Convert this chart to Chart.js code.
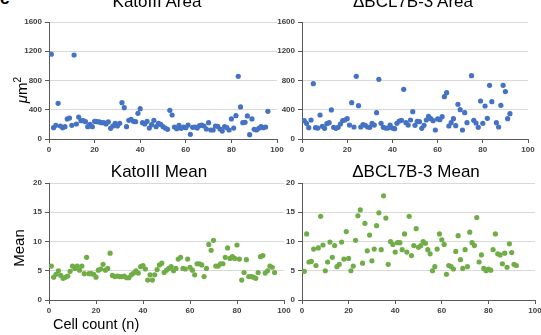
<!DOCTYPE html>
<html>
<head>
<meta charset="utf-8">
<script src="https://cdn.jsdelivr.net/npm/chart.js@4.4.1/dist/chart.umd.min.js"></script>
<style>
html, body { margin: 0; padding: 0; background: #fff; overflow: hidden; width: 541px; height: 335px; }
body { position: relative; font-family: "Liberation Sans", Arial, sans-serif; }
canvas { position: absolute; }
.t { position: absolute; font-size: 17px; line-height: 17px; color: #000; white-space: nowrap; transform: translateX(-50%); }
.yt { position: absolute; font-size: 15px; line-height: 15px; color: #000; white-space: nowrap; transform: translate(-50%, -50%) rotate(-90deg); }
.xt { position: absolute; font-size: 14.5px; line-height: 14.5px; color: #000; white-space: nowrap; }
.lbl { position: absolute; font-size: 17px; line-height: 17px; font-weight: bold; color: #000; }
</style>
</head>
<body>
<div class="lbl" style="left:0px; top:-10px;">c</div>
<canvas id="c1" width="290" height="160" style="left:0px; top:0px;"></canvas>
<canvas id="c2" width="280" height="160" style="left:270px; top:0px;"></canvas>
<canvas id="c3" width="295" height="175" style="left:0px; top:160px;"></canvas>
<canvas id="c4" width="280" height="175" style="left:270px; top:160px;"></canvas>

<div class="t" style="left:157px; top:-7px;">KatoIII Area</div>
<div class="t" style="left:413px; top:-7px;">ΔBCL7B-3 Area</div>
<div class="t" style="left:159px; top:163px;">KatoIII Mean</div>
<div class="t" style="left:416px; top:163px;">ΔBCL7B-3 Mean</div>
<div class="yt" style="left:19px; top:90px;"><i>μ</i>m<sup style="font-size:10px;">2</sup></div>
<div class="yt" style="left:18px; top:248px;">Mean</div>
<div class="xt" style="left:53px; top:317px;">Cell count (n)</div>

<script>
// x ticks shared by all panels
const xTicks = [0, 20, 40, 60, 80, 100];
const areaTicks = [0, 400, 800, 1200, 1600];
const meanTicks = [0, 5, 10, 15, 20];

// KatoIII cell area, cells 1..96
const katoArea = [1160, 155, 187, 488, 178, 155, 169, 274, 287, 187,
  1149, 205, 300, 250, 250, 237, 169, 200, 169, 242,
  237, 233, 223, 223, 205, 233, 146, 178, 214, 178,
  214, 497, 429, 169, 255, 269, 242, 237, 351, 415,
  223, 205, 242, 150, 196, 255, 169, 214, 200, 169,
  150, 132, 392, 328, 164, 141, 187, 146, 164, 155,
  191, 64, 160, 164, 150, 182, 191, 178, 137, 223,
  123, 123, 178, 173, 137, 109, 169, 155, 123, 274,
  150, 319, 857, 438, 223, 228, 315, 59, 274, 132,
  123, 146, 169, 155, 164, 378];

// dBCL7B-3 cell area
const bclAreaX = [1, 2, 3, 4, 5, 6, 7, 8, 9, 10,
  11, 12, 13, 14, 15, 16, 17, 18, 19, 20,
  21, 22, 23, 24, 25, 26, 27, 28, 29, 30,
  31, 32, 33, 34, 35, 36, 37, 38, 39, 40,
  41, 42, 43, 44, 45, 46, 47, 48, 49, 50,
  51, 52, 53, 54, 55, 56, 57, 58, 59, 60,
  61, 62, 63, 64, 65, 66, 67, 68, 69, 70,
  71, 72, 73, 75, 76, 77, 78, 79, 80, 81,
  82, 83, 84, 86, 87, 88, 89, 90, 91, 92];
const bclArea = [250, 214, 155, 260, 757, 155, 150, 328, 173, 146,
  210, 223, 397, 160, 146, 160, 205, 250, 260, 278,
  191, 497, 164, 857, 456, 164, 196, 187, 164, 160,
  214, 191, 360, 816, 214, 160, 150, 150, 191, 150,
  141, 214, 246, 255, 679, 223, 191, 260, 374, 187,
  242, 237, 146, 187, 260, 310, 278, 250, 123, 274,
  264, 305, 579, 634, 178, 223, 278, 182, 474, 401,
  123, 360, 223, 866, 255, 219, 160, 520, 214, 451,
  283, 734, 511, 223, 164, 461, 734, 648, 278, 347];

// KatoIII mean intensity, cells 1..96
const katoMean = [5.8, 3.9, 4.4, 5.0, 4.2, 3.7, 3.9, 4.1, 4.9, 5.8,
  5.4, 5.8, 5.1, 5.8, 4.5, 7.3, 4.5, 4.5, 4.4, 3.9,
  5.1, 5.3, 6.1, 5.1, 5.4, 8.0, 4.2, 4.0, 4.1, 4.0,
  4.0, 4.1, 3.8, 3.8, 4.3, 4.6, 5.0, 4.6, 5.7, 5.9,
  5.3, 3.4, 4.3, 3.4, 4.3, 5.2, 6.0, 6.3, 4.7, 5.1,
  5.4, 5.7, 5.0, 5.4, 7.0, 7.3, 5.4, 5.3, 7.0, 5.6,
  5.1, 4.3, 6.2, 6.2, 6.0, 4.0, 5.4, 9.5, 8.5, 10.2,
  5.8, 5.8, 6.2, 6.2, 7.3, 8.9, 7.1, 7.4, 7.1, 9.4,
  7.0, 3.4, 4.7, 6.9, 4.0, 4.0, 3.9, 3.7, 4.7, 7.4,
  7.6, 4.6, 5.0, 5.8, 5.6, 4.7];

// dBCL7B-3 mean intensity, cells 1..92
const bclMean = [4.9, 11.3, 6.5, 6.6, 8.7, 5.9, 8.9, 14.3, 9.4, 5.0,
  6.5, 9.9, 7.3, 9.3, 5.7, 6.1, 9.9, 7.0, 11.7, 7.1,
  5.0, 5.8, 10.2, 14.4, 15.4, 6.3, 13.1, 8.4, 11.1, 6.7,
  8.7, 12.7, 14.9, 8.6, 17.8, 14.0, 6.1, 10.0, 9.5, 8.2,
  9.8, 9.8, 8.6, 11.3, 8.2, 14.3, 7.6, 9.3, 12.2, 9.0,
  9.3, 10.0, 9.7, 8.6, 7.9, 5.0, 5.7, 8.7, 11.3, 10.3,
  9.5, 4.4, 5.9, 5.7, 5.3, 8.3, 11.0, 6.9, 5.4, 8.6,
  5.7, 11.6, 9.8, 9.3, 14.1, 6.5, 7.7, 5.4, 5.0, 5.3,
  5.1, 8.6, 11.3, 7.9, 7.7, 6.2, 8.0, 5.6, 9.6, 8.1,
  6.1, 5.9];

const blue = '#4472C4';
const green = '#70AD47';
const tickFont = { family: 'Liberation Sans', size: 8, weight: 'bold' };

function pts(xs, ys) {
  return ys.map((v, i) => ({ x: xs ? xs[i] : i + 1, y: v }));
}

function panel(id, data, color, yTicks, yWidth, xHeight, pad) {
  new Chart(document.getElementById(id), {
    type: 'scatter',
    data: {
      datasets: [{
        data: data,
        backgroundColor: color,
        borderColor: color,
        borderWidth: 0,
        pointRadius: 2.6,
        pointHoverRadius: 2.6
      }]
    },
    options: {
      responsive: false,
      animation: false,
      layout: { padding: pad },
      plugins: { legend: { display: false }, tooltip: { enabled: false } },
      scales: {
        x: {
          type: 'linear', min: xTicks[0], max: xTicks[xTicks.length - 1],
          afterBuildTicks: s => { s.ticks = xTicks.map(v => ({ value: v })); },
          afterFit: s => { s.height = xHeight; },
          grid: { drawOnChartArea: false, tickLength: 4, tickColor: '#595959' },
          border: { color: '#595959', width: 1 },
          ticks: { font: tickFont, color: '#404040', padding: 2, maxRotation: 0, callback: v => String(v) }
        },
        y: {
          type: 'linear', min: yTicks[0], max: yTicks[yTicks.length - 1],
          afterBuildTicks: s => { s.ticks = yTicks.map(v => ({ value: v })); },
          afterFit: s => { s.width = yWidth; },
          grid: { color: '#d9d9d9', tickLength: 4, tickColor: '#595959' },
          border: { color: '#595959', width: 1 },
          ticks: { font: tickFont, color: '#404040', padding: 3, callback: v => String(v) }
        }
      }
    }
  });
}

panel('c1', pts(null, katoArea), blue, areaTicks, 49, 21, { left: 0, top: 22, right: 13, bottom: 0 });
panel('c2', pts(bclAreaX, bclArea), blue, areaTicks, 32, 21, { left: 0, top: 22, right: 22, bottom: 0 });
panel('c3', pts(null, katoMean), green, meanTicks, 49, 35, { left: 0, top: 23, right: 11, bottom: 0 });
panel('c4', pts(null, bclMean), green, meanTicks, 32, 35, { left: 0, top: 23, right: 15, bottom: 0 });
</script>
</body>
</html>
